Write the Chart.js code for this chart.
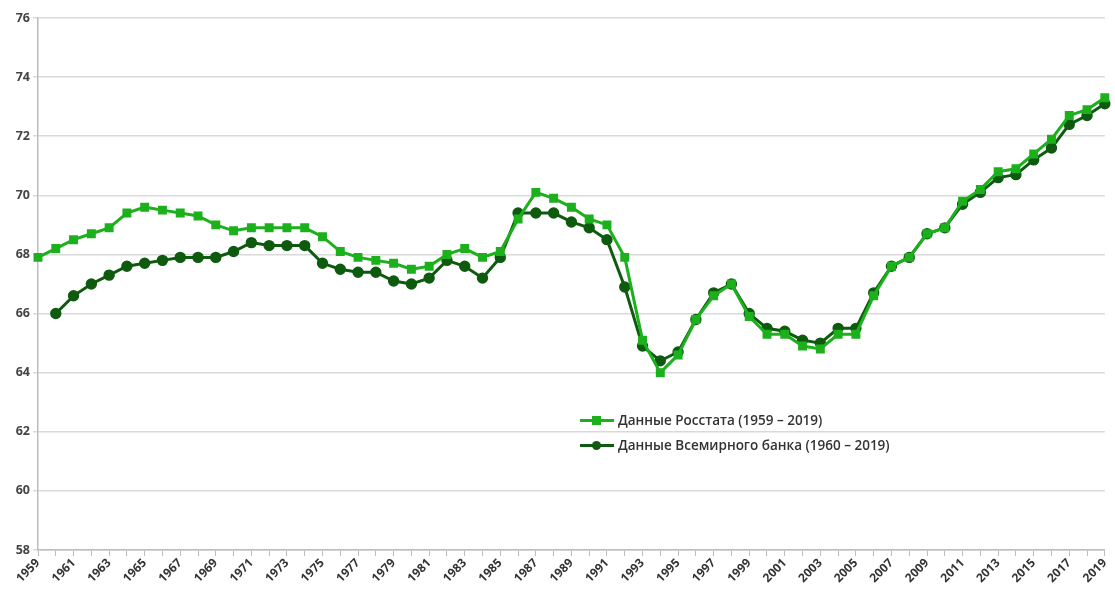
<!DOCTYPE html>
<html>
<head>
<meta charset="utf-8">
<script src="https://cdn.jsdelivr.net/npm/chart.js@4"></script>
<style>
  html, body { margin: 0; padding: 0; background: #fff; }
  #wrap { position: relative; width: 1115px; height: 595px; }
  .legend { position: absolute; left: 580px; top: 408px; font-family: "Open Sans", "Noto Sans", sans-serif; font-size: 13.5px; font-weight: 600; color: #333; }
  .legend div { height: 25px; line-height: 25px; display: flex; align-items: center; }
  .key { position: relative; width: 34px; height: 3px; margin-right: 4px; }
  .key i { position: absolute; left: 12px; top: -3px; width: 9px; height: 9px; }
</style>
</head>
<body>
<div id="wrap">
  <canvas id="chart" width="1115" height="595"></canvas>
  <div class="legend">
    <div><span class="key" style="background:#1cb01c"><i style="background:#1cb01c"></i></span>Данные Росстата (1959 – 2019)</div>
    <div><span class="key" style="background:#0e5a0e"><i style="background:#0e5a0e;border-radius:50%"></i></span>Данные Всемирного банка (1960 – 2019)</div>
  </div>
</div>
<script>
var years = [];
for (var y = 1959; y <= 2019; y++) years.push(String(y));

var rosstat = [
  67.9, 68.2, 68.5, 68.7, 68.9, 69.4, 69.6, 69.5, 69.4, 69.3,
  69.0, 68.8, 68.9, 68.9, 68.9, 68.9, 68.6, 68.1, 67.9, 67.8,
  67.7, 67.5, 67.6, 68.0, 68.2, 67.9, 68.1, 69.2, 70.1, 69.9,
  69.6, 69.2, 69.0, 67.9, 65.1, 64.0, 64.6, 65.8, 66.6, 67.0,
  65.9, 65.3, 65.3, 64.9, 64.8, 65.3, 65.3, 66.6, 67.6, 67.9,
  68.7, 68.9, 69.8, 70.2, 70.8, 70.9, 71.4, 71.9, 72.7, 72.9,
  73.3
];
var worldBank = [
  null, 66.0, 66.6, 67.0, 67.3, 67.6, 67.7, 67.8, 67.9, 67.9,
  67.9, 68.1, 68.4, 68.3, 68.3, 68.3, 67.7, 67.5, 67.4, 67.4,
  67.1, 67.0, 67.2, 67.8, 67.6, 67.2, 67.9, 69.4, 69.4, 69.4,
  69.1, 68.9, 68.5, 66.9, 64.9, 64.4, 64.7, 65.8, 66.7, 67.0,
  66.0, 65.5, 65.4, 65.1, 65.0, 65.5, 65.5, 66.7, 67.6, 67.9,
  68.7, 68.9, 69.7, 70.1, 70.6, 70.7, 71.2, 71.6, 72.4, 72.7,
  73.1
];
var yTicks = [58, 60, 62, 64, 66, 68, 70, 72, 74, 76];

var ctx = document.getElementById("chart");

const config = {
  type: 'line',
  data: {
    labels: years,
    datasets: [{
      label: 'Данные Росстата (1959 – 2019)',
      data: rosstat,
      borderColor: '#1cb01c',
      backgroundColor: '#1cb01c',
      borderWidth: 3,
      pointStyle: 'rect',
      pointRadius: 4.2,
      tension: 0
    }, {
      label: 'Данные Всемирного банка (1960 – 2019)',
      data: worldBank,
      borderColor: '#0e5a0e',
      backgroundColor: '#0e5a0e',
      borderWidth: 3,
      pointStyle: 'circle',
      pointRadius: 4.2,
      tension: 0
    }]
  },
  options: {
    responsive: false,
    animation: false,
    layout: { padding: { top: 18, right: 2, left: 0, bottom: 0 } },
    plugins: { legend: { display: false }, tooltip: { enabled: false } },
    scales: {
      x: {
        offset: false,
        grid: { drawOnChartArea: false, drawTicks: true, tickLength: 6, color: '#bdbdbd' },
        border: { color: '#bdbdbd', width: 1.5 },
        ticks: {
          autoSkip: false,
          maxRotation: 45,
          minRotation: 45,
          padding: 0,
          color: '#333',
          font: { family: '"Open Sans", sans-serif', size: 12, weight: 'bold' },
          callback: function (v, i) { return i % 2 === 0 ? years[i] : ''; }
        },
        afterFit: function (s) { s.height = 45; }
      },
      y: {
        min: 58,
        max: 76,
        afterBuildTicks: function (s) { s.ticks = yTicks.map(function (v) { return { value: v }; }); },
        grid: { color: '#d9d9d9', lineWidth: 1.5, tickLength: 5 },
        border: { color: '#bdbdbd', width: 1.5 },
        ticks: {
          color: '#444',
          padding: 3,
          font: { family: '"Open Sans", sans-serif', size: 12.5, weight: 'bold' }
        },
        afterFit: function (s) { s.width = 38; }
      }
    }
  }
};

const myChart = new Chart(ctx, config);
</script>
</body>
</html>
